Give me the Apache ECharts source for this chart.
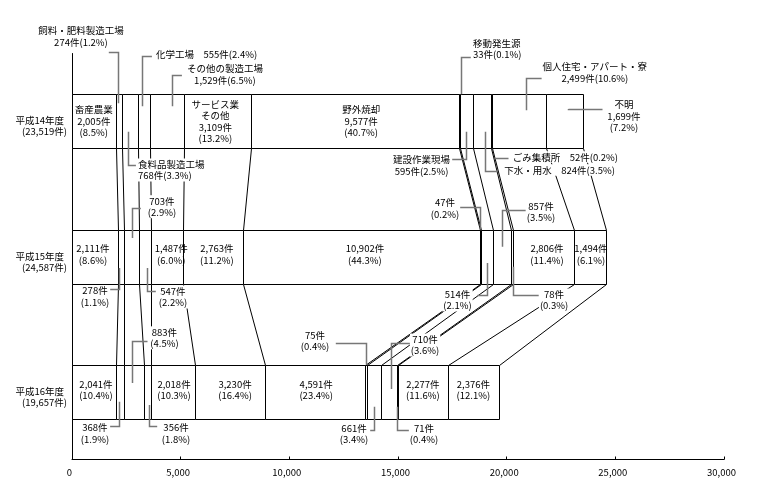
<!DOCTYPE html>
<html><head><meta charset="utf-8">
<script src="https://cdn.jsdelivr.net/npm/echarts@6/dist/echarts.min.js"></script>
<style>html,body{margin:0;padding:0;background:#fff}#c{width:761px;height:489px}</style>
</head><body><div id="c"></div>
<script>
// ---------------- data ----------------
const years = ['平成14年度', '平成15年度', '平成16年度'];
const yearTotals = [23519, 24587, 19657];
const sources = ['畜産農業', '飼料・肥料製造工場', '食料品製造工場', '化学工場', 'その他の製造工場',
  'サービス業その他', '野外焼却', '移動発生源', '建設作業現場', '下水・用水', 'ごみ集積所',
  '個人住宅・アパート・寮', '不明'];
const valuesH14 = [2005, 274, 768, 555, 1529, 3109, 9577, 33, 595, 824, 52, 2499, 1699];
const valuesH15 = [2111, 278, 703, 547, 1487, 2763, 10902, 47, 514, 857, 78, 2806, 1494];
const valuesH16 = [2041, 368, 883, 356, 2018, 3230, 4591, 75, 661, 710, 71, 2277, 2376];
const pctH14 = [8.5, 1.2, 3.3, 2.4, 6.5, 13.2, 40.7, 0.1, 2.5, 3.5, 0.2, 10.6, 7.2];
const pctH15 = [8.6, 1.1, 2.9, 2.2, 6.0, 11.2, 44.3, 0.2, 2.1, 3.5, 0.3, 11.4, 6.1];
const pctH16 = [10.4, 1.9, 4.5, 1.8, 10.3, 16.4, 23.4, 0.4, 3.4, 3.6, 0.4, 11.6, 12.1];
const xTicks = [0, 5000, 10000, 15000, 20000, 25000, 30000];

// ---------------- layout / style ----------------
const FONT = '"Noto Sans CJK JP", "Noto Sans", sans-serif';
const FS = 9.5;
const BAR_W = 54;
const LEADER = '#777';
const dispName = { 5: 'サービス業\nその他' };
// [category, segment, kind, textDx, textDy, align, leader [dx, y0, y1, hLen]]  (px offsets from segment centre)
const LAYOUT = [
  [0, 0, 'n3', 0, 0, 'center', null],
  [0, 1, 'n2', -37.6, -85, 'center', [-1, -18, -69, -9.7]],
  [0, 2, 'n2', 7.1, 48.8, 'left', [-1.6, 10.5, 43.5, 7.4]],
  [0, 3, 'n1', 10.7, -66.7, 'left', [-2.5, -15, -65, 9.4]],
  [0, 4, 'n2', 58, -46.7, 'center', [5.4, -15, -46, 9.4]],
  [0, 5, 'n3', -2, 0, 'center', null],
  [0, 6, 'n3', 6, 0, 'center', null],
  [0, 7, 'n2', 12.4, -72.2, 'left', [1.1, -27, -64, 9.3]],
  [0, 8, 'n2', -44.9, 44.1, 'center', [-0.4, 10.5, 37.8, -14.3]],
  [0, 9, 'n1', 21.4, 48.8, 'left', [3.1, 10.5, 49.5, 12]],
  [0, 10, 'n1', 20.3, 35.8, 'left', [3.6, 36.8, 36.8, 13]],
  [0, 11, 'n2', 75.8, -48.7, 'center', [6.8, -11, -43.5, 22]],
  [0, 12, 'n3', 59.3, -5.2, 'center', [3.3, -12.2, -12.2, 34]],

  [1, 0, 'vp', -2, -2, 'center', null],
  [1, 1, 'vp', -25.9, 40, 'center', [-1.9, 11.5, 32.5, -11]],
  [1, 2, 'vp', 30.4, -49.8, 'center', [0, -18.5, -48.5, 8.3]],
  [1, 3, 'vp', 27.8, 40.5, 'center', [1.5, 11.5, 34.5, 8.3]],
  [1, 4, 'vp', 4, -2, 'center', null],
  [1, 5, 'vp', 3.5, -2, 'center', null],
  [1, 6, 'vp', 3, -2, 'center', null],
  [1, 7, 'vp', -35.9, -48, 'center', [-0.9, -27, -49.5, -23]],
  [1, 8, 'vp', -29.5, 43.5, 'center', [-0.3, 6.5, 38.5, -10]],
  [1, 9, 'vp', 39.1, -44.7, 'center', [-0.2, -9.8, -46.5, 23.3]],
  [1, 10, 'vp', 42, 43.5, 'center', [0.7, 10.2, 38.5, 25.3]],
  [1, 11, 'vp', 3.6, -2, 'center', null],
  [1, 12, 'vp', 0.8, -2, 'center', null],

  [2, 0, 'vp', 1.8, -2, 'center', null],
  [2, 1, 'vp', -25.4, 41.5, 'center', [-1.4, 9.9, 34.2, -11]],
  [2, 2, 'vp', 30.5, -54, 'center', [-2.3, -8.8, -51.1, 15]],
  [2, 3, 'vp', 28.6, 41.5, 'center', [1.6, 13.2, 34.2, 7.7]],
  [2, 4, 'vp', 0.8, -2, 'center', null],
  [2, 5, 'vp', 4.8, -2, 'center', null],
  [2, 6, 'vp', 1, -2, 'center', null],
  [2, 7, 'vp', -50.9, -50.8, 'center', [-0.2, -27, -49.1, -30.7]],
  [2, 8, 'vp', -19.9, 42.2, 'center', [0.4, 14.9, 38.2, -4.3]],
  [2, 9, 'vp', 36.2, -46.8, 'center', [1.9, -2.8, -48.8, 19.3]],
  [2, 10, 'vp', 26.7, 42, 'center', [0, 14.9, 38.2, 12.7]],
  [2, 11, 'vp', 0, -2, 'center', null],
  [2, 12, 'vp', 0, -2, 'center', null]
];

// ---------------- derived ----------------
const rows = [valuesH14, valuesH15, valuesH16];
const pcts = [pctH14, pctH15, pctH16];
const cums = rows.map(r => { let s = 0; return r.map(v => (s += v)); });
const fmt = v => v.toLocaleString('en-US');
const px = v => Math.round(v) + 0.5;

function labelText(c, s, kind) {
  const v = fmt(rows[c][s]) + '件';
  const p = '(' + pcts[c][s].toFixed(1) + '%)';
  const n = dispName[s] || sources[s];
  if (kind === 'n3') return n + '\n' + v + '\n' + p;
  if (kind === 'n2') return n + '\n' + v + p;
  if (kind === 'n1') return n + '　' + v + p;
  return v + '\n' + p;
}

// stacked segments: [start, end, category, segment]
const segData = [];
rows.forEach((r, c) => r.forEach((v, s) => segData.push([cums[c][s] - v, cums[c][s], c, s])));

const barSeries = {
  type: 'custom', name: '発生源別', silent: true, z: 2, clip: false,
  encode: { x: [0, 1], y: 2 },
  data: segData,
  renderItem: (params, api) => {
    const a = api.coord([api.value(0), api.value(2)]);
    const b = api.coord([api.value(1), api.value(2)]);
    const x0 = Math.round(a[0]), x1 = Math.round(b[0]);
    const top = Math.round(a[1] - BAR_W / 2);
    return { type: 'rect', shape: { x: x0 + 0.5, y: top + 0.5, width: x1 - x0, height: BAR_W },
      style: { fill: '#fff', stroke: '#000', lineWidth: 1 } };
  }
};

const connData = [];
for (let c = 0; c < rows.length - 1; c++)
  for (let k = 0; k < sources.length; k++)
    connData.push([cums[c][k], cums[c + 1][k], c, c + 1]);

const connSeries = {
  type: 'custom', silent: true, z: 1, clip: false,
  encode: { x: [0, 1], y: [2, 3] },
  data: connData,
  renderItem: (params, api) => {
    const a = api.coord([api.value(0), api.value(2)]);
    const b = api.coord([api.value(1), api.value(3)]);
    const ya = Math.round(a[1] - BAR_W / 2) + BAR_W;
    const yb = Math.round(b[1] - BAR_W / 2);
    return { type: 'line', shape: { x1: px(a[0]), y1: ya + 0.5, x2: px(b[0]), y2: yb + 0.5 },
      style: { stroke: '#000', lineWidth: 1 } };
  }
};

const annData = LAYOUT.map(([c, s]) => [cums[c][s] - rows[c][s], cums[c][s], c]);
const annSeries = {
  type: 'custom', silent: true, z: 5, clip: false,
  encode: { x: [0, 1], y: 2 },
  data: annData,
  renderItem: (params, api) => {
    const [c, s, kind, tx, ty, align, leader] = LAYOUT[params.dataIndex];
    const p0 = api.coord([api.value(0), api.value(2)]);
    const p1 = api.coord([api.value(1), api.value(2)]);
    const mx = (p0[0] + p1[0]) / 2, cy = p0[1];
    const children = [];
    if (leader) {
      const [lx, y0, y1, hl] = leader;
      const x = px(mx + lx), ye = px(cy + y1);
      children.push({ type: 'polyline', z2: 1,
        shape: { points: [[x, cy + y0], [x, ye], [x + hl, ye]] },
        style: { stroke: LEADER, lineWidth: 1.5, fill: null } });
    }
    children.push({ type: 'text', z2: 2,
      style: { text: labelText(c, s, kind), x: mx + tx, y: cy + ty, align, verticalAlign: 'middle',
        fontSize: FS, fontFamily: FONT, fill: '#000', lineHeight: 11.5,
        backgroundColor: leader ? '#fff' : null, padding: leader ? [0, 1] : 0 } });
    return { type: 'group', children };
  }
};

const chart = echarts.init(document.getElementById('c'), null, { renderer: 'canvas' });
chart.setOption({
  animation: false,
  backgroundColor: '#fff',
  grid: { left: 72, right: 37, top: 53.5, bottom: 29.5, containLabel: false },
  xAxis: {
    type: 'value', min: 0, max: 30000, interval: 5000,
    axisLine: { show: true, lineStyle: { color: '#000', width: 1 } },
    axisTick: { show: true, inside: true, length: 3, lineStyle: { color: '#000' } },
    splitLine: { show: false },
    axisLabel: { customValues: xTicks, formatter: v => fmt(v), fontSize: FS, fontFamily: FONT,
      color: '#000', margin: 8, padding: [0, 5, 0, 0] }
  },
  yAxis: {
    type: 'category', inverse: true, data: years,
    axisLine: { show: true, lineStyle: { color: '#000', width: 1 } },
    axisTick: { show: false }, splitLine: { show: false },
    axisLabel: {
      margin: 5, align: 'right', padding: [10, 0, 0, 0],
      formatter: (v, i) => '{a|' + v + '}\n{b|(' + fmt(yearTotals[i]) + '件)}',
      rich: {
        a: { fontSize: FS, fontFamily: FONT, color: '#000', lineHeight: 11, padding: [0, 3, 0, 0] },
        b: { fontSize: FS, fontFamily: FONT, color: '#000', lineHeight: 11 }
      }
    }
  },
  series: [connSeries, barSeries, annSeries]
});
</script></body></html>
